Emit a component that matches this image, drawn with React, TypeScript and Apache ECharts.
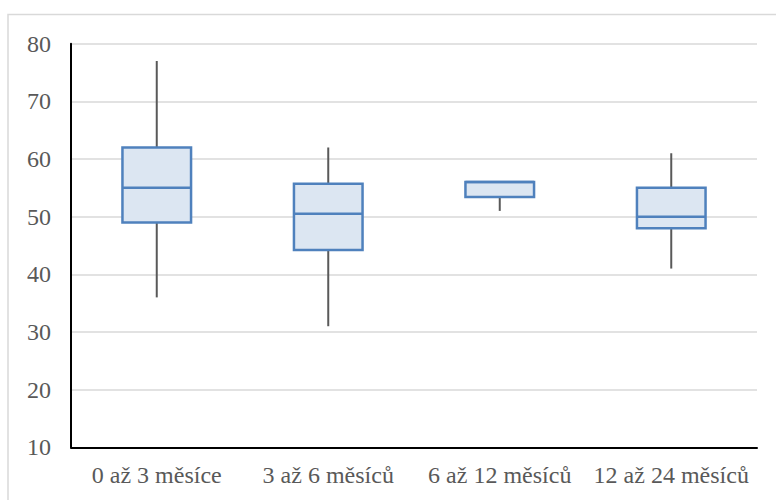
import React, { useEffect, useRef } from "react";
import * as echarts from "echarts";

// Age groups on the category axis
const categories = ["0 až 3 měsíce", "3 až 6 měsíců", "6 až 12 měsíců", "12 až 24 měsíců"];

// Five-number summaries per group
const minimums = [36, 31, 51, 41];
const lowerQuartiles = [49, 44.2, 53.4, 48];
const medians = [55, 50.5, 56, 50];
const upperQuartiles = [62, 55.7, 56, 55];
const maximums = [77, 62, 56, 61];

// Value axis ticks
const yMin = 10;
const yMax = 80;
const yStep = 10;

const FONT = "Liberation Serif";
const TEXT = "#595959";

export default function App() {
  const ref = useRef<HTMLDivElement>(null);

  useEffect(() => {
    if (!ref.current) return;
    document.body.style.margin = "0";
    const chart = echarts.init(ref.current, undefined, { renderer: "svg" });

    const rows = categories.map((_, i) => [
      i,
      minimums[i],
      lowerQuartiles[i],
      medians[i],
      upperQuartiles[i],
      maximums[i],
    ]);

    chart.setOption({
      animation: false,
      backgroundColor: "#ffffff",
      textStyle: { fontFamily: FONT },
      graphic: [
        {
          type: "rect",
          silent: true,
          z: -10,
          shape: { x: 8, y: 14.5, width: 820, height: 620 },
          style: { fill: "none", stroke: "#d9d9d9", lineWidth: 1.5 },
        },
      ],
      grid: { left: 71, right: 19, top: 43.7, bottom: 52.7, containLabel: false },
      xAxis: {
        type: "category",
        data: categories,
        axisLine: { show: true, lineStyle: { color: "#000000", width: 2 } },
        axisTick: { show: false },
        splitLine: { show: false },
        axisLabel: {
          color: TEXT,
          fontFamily: FONT,
          fontSize: 24,
          margin: 16,
          interval: 0,
        },
      },
      yAxis: {
        type: "value",
        min: yMin,
        max: yMax,
        interval: yStep,
        axisLine: { show: true, lineStyle: { color: "#000000", width: 2 } },
        axisTick: { show: false },
        splitLine: { show: true, lineStyle: { color: "#d9d9d9", width: 1.5 } },
        axisLabel: {
          color: TEXT,
          fontFamily: FONT,
          fontSize: 24,
          margin: 20,
        },
      },
      series: [
        {
          type: "custom",
          data: rows,
          encode: { x: 0, y: [1, 2, 3, 4, 5] },
          renderItem: (params: any, api: any) => {
            const idx = api.value(0);
            const pMin = api.coord([idx, api.value(1)]);
            const yQ1 = api.coord([idx, api.value(2)])[1];
            const yMed = api.coord([idx, api.value(3)])[1];
            const yQ3 = api.coord([idx, api.value(4)])[1];
            const yMaxPx = api.coord([idx, api.value(5)])[1];
            const cx = pMin[0];
            const yMinPx = pMin[1];
            const bw = api.size([1, 0])[0] * 0.4;
            const whisker = { stroke: "#595959", lineWidth: 2 };
            return {
              type: "group",
              children: [
                {
                  type: "line",
                  shape: { x1: cx, y1: yMaxPx, x2: cx, y2: yQ3 },
                  style: whisker,
                },
                {
                  type: "line",
                  shape: { x1: cx, y1: yQ1, x2: cx, y2: yMinPx },
                  style: whisker,
                },
                {
                  type: "rect",
                  shape: { x: cx - bw / 2, y: yQ3, width: bw, height: yQ1 - yQ3 },
                  style: { fill: "#dce6f2", stroke: "#4f81bd", lineWidth: 2.5 },
                },
                {
                  type: "line",
                  shape: { x1: cx - bw / 2, y1: yMed, x2: cx + bw / 2, y2: yMed },
                  style: { stroke: "#4f81bd", lineWidth: 2.5 },
                },
              ],
            };
          },
        },
      ],
    });

    return () => chart.dispose();
  }, []);

  return <div ref={ref} style={{ width: 776, height: 500 }} />;
}
